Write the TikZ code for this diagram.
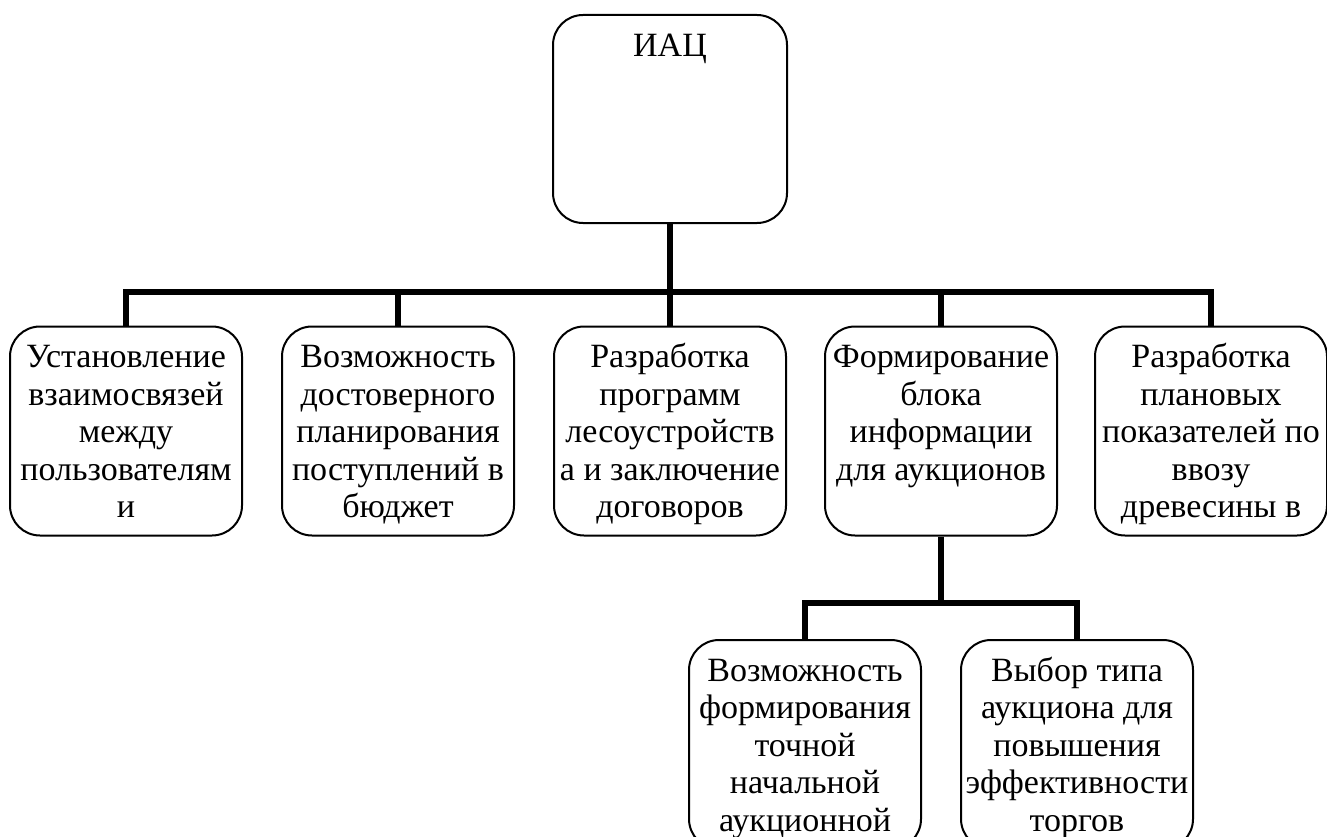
\documentclass[tikz,border=0pt]{standalone}
\usepackage{fontspec}
\setmainfont{Liberation Serif}
\newcommand{\celltext}[2]{\parbox[c][#1][t]{232pt}{\centering\rule{0pt}{41pt}#2}}
\begin{document}
\begin{tikzpicture}[x=1pt,y=-1pt,
  box/.style={draw, line width=2pt, rounded corners=30pt, inner sep=0pt,
    font=\fontsize{34}{37.5}\selectfont},
  conn/.style={line width=6pt, line join=miter, line cap=butt}]
\useasboundingbox (0,0) rectangle (1327,837);
\node[box] (top) at (670,119) {\parbox[c][208pt][t]{234pt}{\centering\rule{0pt}{42pt}ИАЦ}};
\node[box] (b1) at (126,431) {\celltext{209pt}{Установление\\взаимосвязей\\между\\пользователям\\и}};
\node[box] (b2) at (398,431) {\celltext{209pt}{Возможность\\достоверного\\планирования\\поступлений в\\бюджет}};
\node[box] (b3) at (670,431) {\celltext{209pt}{Разработка\\программ\\лесоустройств\\а и заключение\\договоров}};
\node[box] (b4) at (941,431) {\celltext{209pt}{Формирование\\блока\\информации\\для аукционов}};
\node[box] (b5) at (1211,431) {\celltext{209pt}{Разработка\\плановых\\показателей по\\ввозу\\древесины в}};
\node[box] (b6) at (805,744.5) {\celltext{209pt}{Возможность\\формирования\\точной\\начальной\\аукционной}};
\node[box] (b7) at (1077,744.5) {\celltext{209pt}{Выбор типа\\аукциона для\\повышения\\эффективности\\торгов}};
\coordinate (bus) at (0,292);
\coordinate (sub) at (0,603);
\draw[conn] (top.south) -- (b3.north);
\draw[conn] (b1.north) |- (b5.north |- bus) -- (b5.north);
\draw[conn] (b2.north) -- (b2.north |- bus);
\draw[conn] (b4.north) -- (b4.north |- bus);
\draw[conn] (b4.south) -- (b4.south |- sub);
\draw[conn] (b6.north) |- (b7.north |- sub) -- (b7.north);
\end{tikzpicture}
\end{document}
